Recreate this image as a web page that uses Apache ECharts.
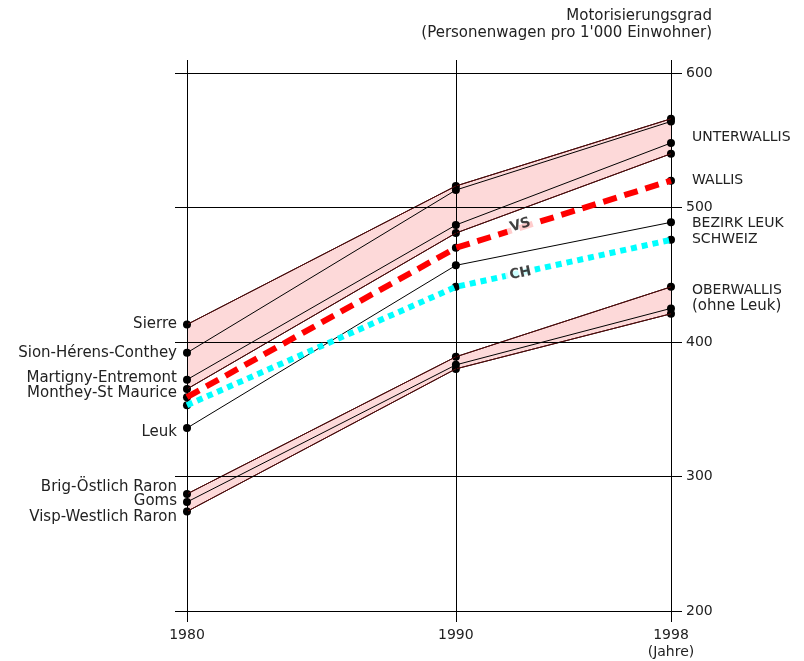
<!DOCTYPE html>
<html><head><meta charset="utf-8">
<script src="https://cdn.jsdelivr.net/npm/echarts@6/dist/echarts.min.js"></script>
<style>html,body{margin:0;padding:0;background:#fff}#c{width:804px;height:661px}</style>
</head><body><div id="c"></div>
<script>
// ---- data ----
const years = [1980, 1990, 1998];
const sierre   = [413, 516, 566];
const sion     = [392, 513, 564];
const martigny = [372, 487, 548];
const monthey  = [365, 481, 540];
const leuk     = [336, 457, 489];
const brig     = [287, 389, 441];
const goms     = [281, 383, 425];
const visp     = [274, 380, 421];
const wallis   = [359, 470, 520];
const schweiz  = [353, 441, 476];
const yTicks = [200, 300, 400, 500, 600];
const xTicks = [1980, 1990, 1998];

const FONT = 'DejaVu Sans';
const TXT = '#222';
const PINK = '#fdd9d9';
const BORDER = '#5a0a0a';

const upper = [sierre, sion, martigny, monthey];
const lower = [brig, goms, visp];
const minOf = g => years.map((_, i) => Math.min(...g.map(s => s[i])));
const maxOf = g => years.map((_, i) => Math.max(...g.map(s => s[i])));
const pts = vals => vals.map((v, i) => [years[i], v]);

function labelled(vals, idx, lab) {
  return vals.map((v, i) => i === idx ? { value: [years[i], v], label: Object.assign({ show: true, color: TXT, fontFamily: FONT, fontSize: 15 }, lab) } : [years[i], v]);
}
function district(name, vals, leftOffset, rightLab) {
  let data = labelled(vals, 0, { position: 'left', distance: 6, formatter: name, offset: [0, leftOffset] });
  if (rightLab) {
    const i = 2;
    data[i] = { value: [years[i], vals[i]], label: Object.assign({ show: true, color: TXT, fontFamily: FONT, fontSize: 14, position: 'right', distance: 17 }, rightLab) };
  }
  return {
    type: 'line', name, data, symbol: 'circle', symbolSize: 8, showSymbol: true,
    itemStyle: { color: '#000' }, lineStyle: { color: '#000', width: 1 }, z: 3,
    label: { show: false }
  };
}
function band(g) {
  const lo = minOf(g), hi = maxOf(g);
  return [
    {
      type: 'custom', z: 1, silent: true, data: [[years[0], lo[0]]],
      renderItem: (params, api) => {
        const top = years.map((y, i) => api.coord([y, hi[i]]));
        const bot = years.map((y, i) => api.coord([y, lo[i]])).reverse();
        return { type: 'polygon', shape: { points: top.concat(bot) }, style: { fill: PINK } };
      }
    },
    { type: 'line', data: pts(lo), symbol: 'none', lineStyle: { color: BORDER, width: 1 }, z: 4, silent: true },
    { type: 'line', data: pts(hi), symbol: 'none', lineStyle: { color: BORDER, width: 1 }, z: 4, silent: true }
  ];
}

const gridMarks = {
  silent: true, symbol: ['none', 'none'], animation: false,
  lineStyle: { color: '#000', width: 1, type: 'solid' },
  data: [
    ...yTicks.map(v => ({ yAxis: v, label: { show: true, position: 'end', distance: 4, formatter: String(v), color: TXT, fontFamily: FONT, fontSize: 14 } })),
    ...xTicks.map(v => ({ xAxis: v, label: { show: true, position: 'start', distance: 5, formatter: v === 1998 ? '1998\n(Jahre)' : String(v), color: TXT, fontFamily: FONT, fontSize: 14, lineHeight: 17, align: 'center' } }))
  ]
};

const bandsU = band(upper);
const bandsL = band(lower);
bandsU[1].markLine = gridMarks;

const tag = (x, y, text, rot) => ({
  type: 'scatter', z: 10, silent: true, symbolSize: 0,
  data: [{ value: [x, y], label: { show: true, formatter: text, position: 'inside', rotate: rot, fontWeight: 'bold', fontFamily: FONT, fontSize: 14, color: '#111', backgroundColor: '#fff', padding: [0, 4] } }]
});

const series = [
  ...bandsU, ...bandsL,
  district('Sierre', sierre, 0),
  district('Sion-Hérens-Conthey', sion, 0),
  district('Martigny-Entremont', martigny, -2, { formatter: 'UNTERWALLIS', offset: [0, -6] }),
  district('Monthey-St Maurice', monthey, 4),
  district('Leuk', leuk, 4, { formatter: 'BEZIRK LEUK', offset: [0, 1] }),
  district('Brig-Östlich Raron', brig, -7, {
    formatter: '{a|OBERWALLIS}\n{b|(ohne Leuk)}', offset: [0, 11],
    rich: { a: { fontSize: 14, fontFamily: FONT, color: TXT, lineHeight: 16 }, b: { fontSize: 15, fontFamily: FONT, color: TXT, lineHeight: 16 } }
  }),
  district('Goms', goms, -1),
  district('Visp-Westlich Raron', visp, 6),
  { type: 'line', data: labelled(wallis, 2, { position: 'right', distance: 17, formatter: 'WALLIS', fontSize: 14 }), symbol: 'circle', symbolSize: 8, itemStyle: { color: '#000' }, lineStyle: { opacity: 0 }, z: 3, label: { show: false } },
  { type: 'line', data: labelled(schweiz, 2, { position: 'right', distance: 17, formatter: 'SCHWEIZ', fontSize: 14 }), symbol: 'circle', symbolSize: 8, itemStyle: { color: '#000' }, lineStyle: { opacity: 0 }, z: 3, label: { show: false } },
  {
    type: 'line', name: 'VS', data: pts(wallis), showSymbol: false, symbol: 'none', z: 6,
    lineStyle: { color: '#ff0000', width: 6, type: [14, 8], cap: 'butt' }
  },
  {
    type: 'line', name: 'CH', data: pts(schweiz), showSymbol: false, symbol: 'none', z: 6,
    lineStyle: { color: '#00ffff', width: 6, type: [6, 5], cap: 'butt' }
  },
  tag(1992.4, 487, 'VS', 17),
  tag(1992.4, 451, 'CH', 12)
];

const chart = echarts.init(document.getElementById('c'), null, { renderer: 'canvas' });
chart.setOption({
  animation: false,
  backgroundColor: '#fff',
  grid: { left: 175, right: 122, top: 60, bottom: 39, containLabel: false },
  xAxis: { type: 'value', min: 1979.554, max: 1998.41, show: false },
  yAxis: { type: 'value', min: 191.8, max: 609.7, show: false },
  graphic: [
    { type: 'text', right: 92, top: 9, style: { text: 'Motorisierungsgrad', fill: TXT, font: '15px "DejaVu Sans"' } },
    { type: 'text', right: 92, top: 26, style: { text: "(Personenwagen pro 1'000 Einwohner)", fill: TXT, font: '15px "DejaVu Sans"' } }
  ],
  series
});
</script>
</body></html>
